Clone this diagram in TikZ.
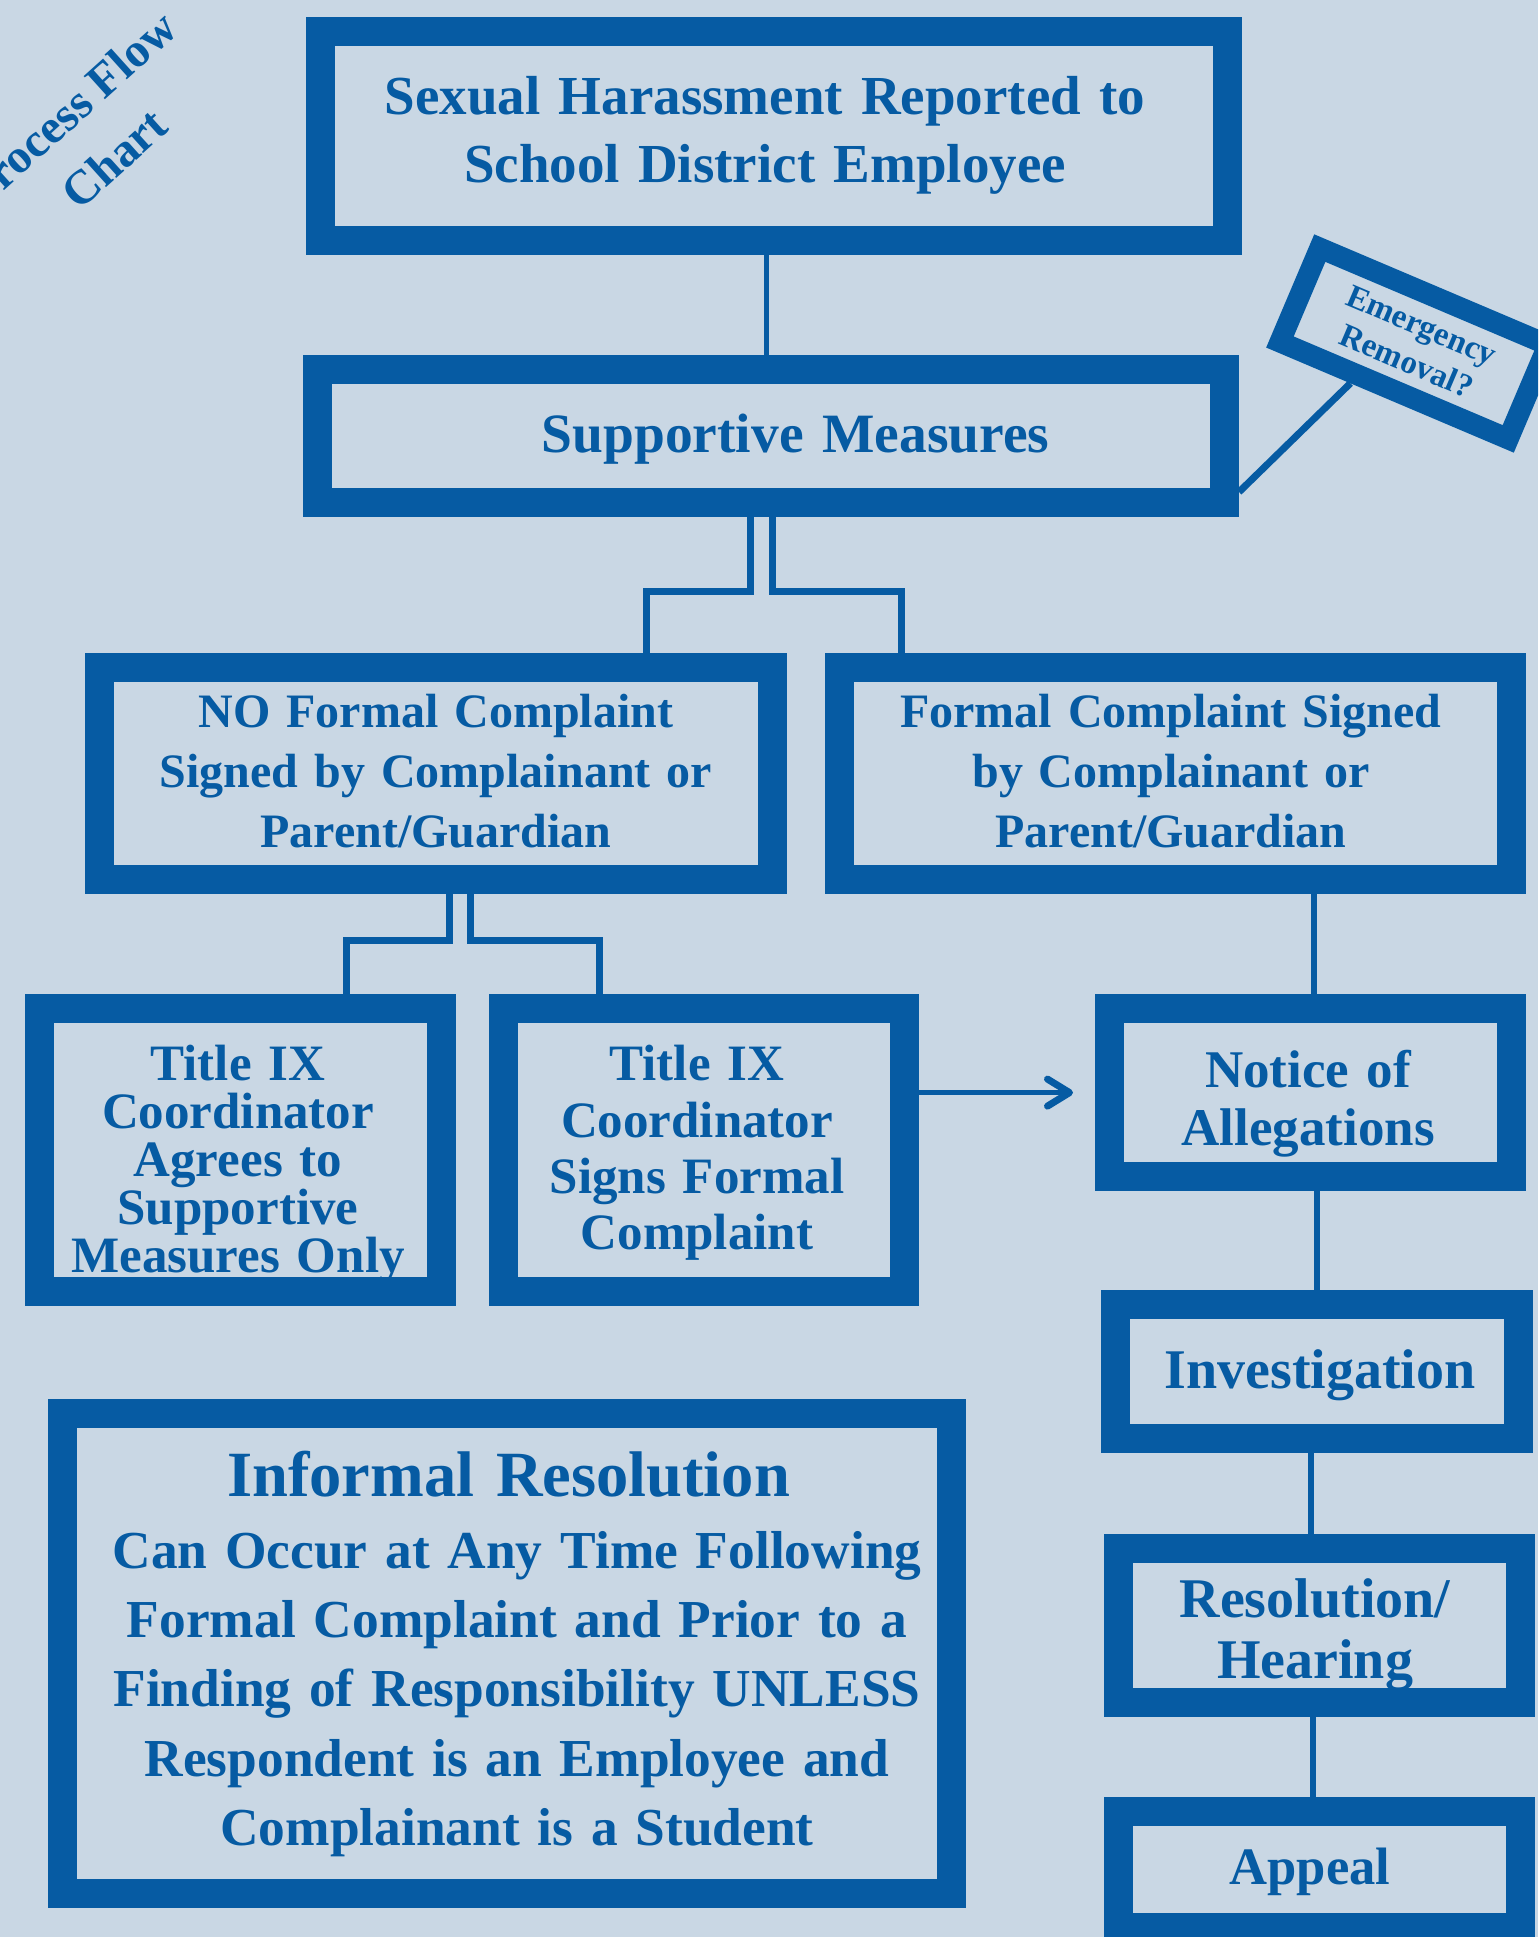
\documentclass[tikz,border=0pt]{standalone}
\usepackage{fontspec}
\setmainfont{Liberation Serif}
\usetikzlibrary{arrows.meta,calc}
\definecolor{cblue}{HTML}{065BA3}
\definecolor{cbg}{HTML}{C9D7E4}
\begin{document}
\begin{tikzpicture}[x=0.5pt,y=-0.5pt,
  box/.style={draw=cblue, fill=cbg, line width=14.5pt, inner sep=0pt},
  conn/.style={draw=cblue, line width=3pt},
  connb/.style={draw=cblue, line width=3.5pt},
  txt/.style={text=cblue, align=center, anchor=base, inner sep=0pt},
  fs/.style 2 args={font=\bfseries\fontsize{#1}{#2}\selectfont}]
\useasboundingbox (0,0) rectangle (1538,1937);
\clip (0,0) rectangle (1538,1937);
\fill[cbg] (0,0) rectangle (1538,1937);

% boxes
\node[box, minimum width=453.5pt, minimum height=104.5pt] (T1) at (774,136) {};
\node[box, minimum width=453.5pt, minimum height=66.5pt] (SM) at (771,436) {};
\node[box, line width=10.5pt, minimum width=124pt, minimum height=51pt, rotate=-23,
      text=cblue, align=center, fs={16.5}{19.5}] (ER) at (1414,343.5) {Emergency\\Removal?};
\node[box, minimum width=336.5pt, minimum height=106.15pt] (NF) at (436,773.35) {};
\node[box, minimum width=336pt, minimum height=106.15pt] (FC) at (1175.5,773.35) {};
\node[box, minimum width=201pt, minimum height=141.5pt] (TA) at (240,1150) {};
\node[box, minimum width=200.4pt, minimum height=141.5pt] (TB) at (703.6,1150) {};
\node[box, minimum width=201pt, minimum height=84.1pt] (NA) at (1310.5,1092.6) {};
\node[box, minimum width=201.35pt, minimum height=66.75pt] (IV) at (1316.9,1371.3) {};
\node[box, minimum width=200.85pt, minimum height=77.35pt] (RH) at (1319.7,1625.4) {};
\node[box, minimum width=200.85pt, minimum height=58.1pt] (AP) at (1319.7,1869.4) {};
\node[box, minimum width=444.4pt, minimum height=240.25pt] (IR) at (507.1,1653.3) {};

% connectors
\draw[conn, line width=2.5pt] ($(SM.north)+(-5,0)$) -- ($(SM.north |- T1.south)+(-5,0)$);
\draw[connb] ($(SM.south)+(-20.5,0)$) -- ++(0,74.7) -| ($(NF.north)+(210.7,0)$);
\draw[connb] ($(SM.south)+(1.5,0)$) -- ++(0,74.7) -| ($(FC.north)+(-274.2,0)$);
\draw[connb] ($(NF.south)+(13.5,0)$) -- ++(0,46.3) -| ($(TA.north)+(106,0)$);
\draw[connb] ($(NF.south)+(34.5,0)$) -- ++(0,46.3) -| ($(TB.north)+(-104.6,0)$);
\draw[conn] ($(NA.north |- FC.south)+(3,0)$) -- ($(NA.north)+(3,0)$);
\draw[conn] (IV.north |- NA.south) -- (IV.north);
\draw[conn] ($(RH.north |- IV.south)+(-8.7,0)$) -- ($(RH.north)+(-8.7,0)$);
\draw[conn] ($(AP.north |- RH.south)+(-6.4,0)$) -- ($(AP.north)+(-6.4,0)$);
\draw[conn, line width=2.3pt, shorten >=11pt,
      -{Straight Barb[length=11pt,width=13.5pt,line width=3.5pt,round]}]
      (TB.east |- NA.west) -- (NA.west);
\draw[connb] ($(SM.east)+(0,56)$) -- ($(ER.south west)!0.34!(ER.south east)$);

% texts
\node[text=cblue, align=center, rotate=42, inner sep=0pt, fs={24}{33}] (PF) at (92,134) {Process Flow\\Chart};
\node[txt, fs={27.5}{34}, text width=460pt] (T1t) at (765,115) {Sexual Harassment Reported to\\School District Employee};
\node[txt, fs={27.75}{34}, text width=440pt] (SMt) at (795.5,452) {Supportive Measures};
\node[txt, fs={24}{30}, text width=330pt] (NFt) at (436,727) {NO Formal Complaint\\Signed by Complainant or\\Parent/Guardian};
\node[txt, fs={24}{30}, text width=330pt] (FCt) at (1171,727) {Formal Complaint Signed\\by Complainant or\\Parent/Guardian};
\node[txt, fs={25.5}{24}, text width=200pt] (TAt) at (238,1080.7) {Title IX\\Coordinator\\Agrees to\\Supportive\\Measures Only};
\node[txt, fs={25.5}{28.2}, text width=200pt] (TBt) at (697,1080.7) {Title IX\\Coordinator\\Signs Formal\\Complaint};
\node[txt, fs={26.5}{28.9}, text width=200pt] (NAt) at (1308,1087.8) {Notice of\\Allegations};
\node[txt, fs={28}{34}, text width=200pt] (IVt) at (1320,1388.5) {Investigation};
\node[txt, fs={28}{30.7}, text width=200pt] (RHt) at (1315,1617) {Resolution/\\Hearing};
\node[txt, fs={26.3}{32}, text width=200pt] (APt) at (1310,1884) {Appeal};
\node[txt, fs={32.25}{38}, text width=440pt] (IRt) at (508.6,1496.5) {Informal Resolution};
\node[txt, fs={26.7}{34.65}, text width=440pt] (IRb) at (517,1568.3) {Can Occur at Any Time Following\\Formal Complaint and Prior to a\\Finding of Responsibility UNLESS\\Respondent is an Employee and\\Complainant is a Student};
\end{tikzpicture}
\end{document}
